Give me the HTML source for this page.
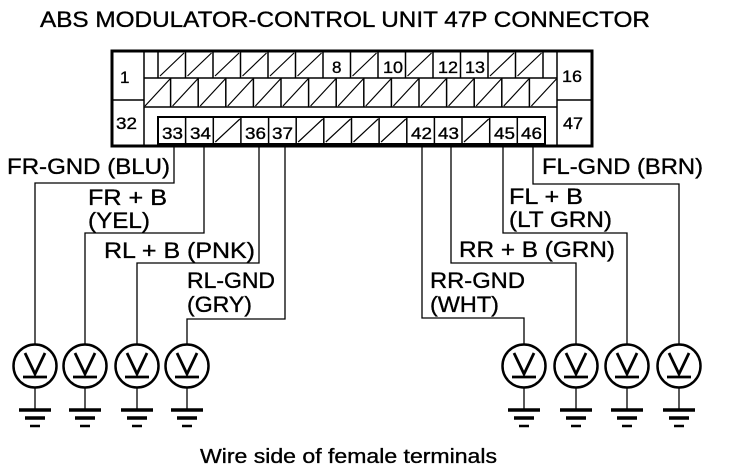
<!DOCTYPE html>
<html><head><meta charset="utf-8"><style>
html,body{margin:0;padding:0;background:#fff;}
svg{display:block;}
text{font-family:"Liberation Sans",sans-serif;fill:#000;stroke:#000;stroke-width:0.35;}
</style></head><body>
<svg width="736" height="474" viewBox="0 0 736 474" xmlns="http://www.w3.org/2000/svg">
<text x="40" y="27" font-size="22" textLength="610" lengthAdjust="spacingAndGlyphs">ABS MODULATOR-CONTROL UNIT 47P CONNECTOR</text>
<g stroke="#000" fill="none" stroke-width="1.5">
<rect x="112" y="51" width="480" height="95" stroke-width="3"/>
<line x1="144" y1="51" x2="144" y2="146"/>
<line x1="557" y1="51" x2="557" y2="146"/>
<line x1="112" y1="100" x2="144" y2="100"/>
<line x1="557" y1="100" x2="592" y2="100"/>
<line x1="144" y1="78" x2="557" y2="78"/>
<line x1="144" y1="107" x2="557" y2="107"/>
<line x1="158" y1="51" x2="158" y2="78"/><line x1="185.5" y1="51" x2="185.5" y2="78"/><line x1="213" y1="51" x2="213" y2="78"/><line x1="240.5" y1="51" x2="240.5" y2="78"/><line x1="268" y1="51" x2="268" y2="78"/><line x1="295.5" y1="51" x2="295.5" y2="78"/><line x1="323" y1="51" x2="323" y2="78"/><line x1="350.5" y1="51" x2="350.5" y2="78"/><line x1="378" y1="51" x2="378" y2="78"/><line x1="405.5" y1="51" x2="405.5" y2="78"/><line x1="433" y1="51" x2="433" y2="78"/><line x1="460.5" y1="51" x2="460.5" y2="78"/><line x1="488" y1="51" x2="488" y2="78"/><line x1="515.5" y1="51" x2="515.5" y2="78"/><line x1="543" y1="51" x2="543" y2="78"/>
<g stroke-width="1.2">
<line x1="160" y1="76" x2="184" y2="53"/><line x1="187.5" y1="76" x2="211.5" y2="53"/><line x1="215" y1="76" x2="239" y2="53"/><line x1="242.5" y1="76" x2="266.5" y2="53"/><line x1="270" y1="76" x2="294" y2="53"/><line x1="297.5" y1="76" x2="321.5" y2="53"/><line x1="352.5" y1="76" x2="376.5" y2="53"/><line x1="407.5" y1="76" x2="431.5" y2="53"/><line x1="490" y1="76" x2="514" y2="53"/><line x1="517.5" y1="76" x2="541.5" y2="53"/>
</g>
<line x1="170.6" y1="78" x2="170.6" y2="107"/><line x1="198.2" y1="78" x2="198.2" y2="107"/><line x1="225.8" y1="78" x2="225.8" y2="107"/><line x1="253.4" y1="78" x2="253.4" y2="107"/><line x1="281" y1="78" x2="281" y2="107"/><line x1="308.6" y1="78" x2="308.6" y2="107"/><line x1="336.2" y1="78" x2="336.2" y2="107"/><line x1="363.8" y1="78" x2="363.8" y2="107"/><line x1="391.4" y1="78" x2="391.4" y2="107"/><line x1="419" y1="78" x2="419" y2="107"/><line x1="446.6" y1="78" x2="446.6" y2="107"/><line x1="474.2" y1="78" x2="474.2" y2="107"/><line x1="501.8" y1="78" x2="501.8" y2="107"/><line x1="529.4" y1="78" x2="529.4" y2="107"/>
<g stroke-width="1.2">
<line x1="145" y1="106" x2="170" y2="79"/><line x1="172.6" y1="106" x2="197.6" y2="79"/><line x1="200.2" y1="106" x2="225.2" y2="79"/><line x1="227.8" y1="106" x2="252.8" y2="79"/><line x1="255.4" y1="106" x2="280.4" y2="79"/><line x1="283" y1="106" x2="308" y2="79"/><line x1="310.6" y1="106" x2="335.6" y2="79"/><line x1="338.2" y1="106" x2="363.2" y2="79"/><line x1="365.8" y1="106" x2="390.8" y2="79"/><line x1="393.4" y1="106" x2="418.4" y2="79"/><line x1="421" y1="106" x2="446" y2="79"/><line x1="448.6" y1="106" x2="473.6" y2="79"/><line x1="476.2" y1="106" x2="501.2" y2="79"/><line x1="503.8" y1="106" x2="528.8" y2="79"/><line x1="531.4" y1="106" x2="556.4" y2="79"/>
</g>
<rect x="158" y="117" width="387" height="27" stroke-width="2"/>
<line x1="185.6" y1="117" x2="185.6" y2="144"/><line x1="213.3" y1="117" x2="213.3" y2="144"/><line x1="240.9" y1="117" x2="240.9" y2="144"/><line x1="268.6" y1="117" x2="268.6" y2="144"/><line x1="296.2" y1="117" x2="296.2" y2="144"/><line x1="323.8" y1="117" x2="323.8" y2="144"/><line x1="351.5" y1="117" x2="351.5" y2="144"/><line x1="379.1" y1="117" x2="379.1" y2="144"/><line x1="406.8" y1="117" x2="406.8" y2="144"/><line x1="434.4" y1="117" x2="434.4" y2="144"/><line x1="462" y1="117" x2="462" y2="144"/><line x1="489.7" y1="117" x2="489.7" y2="144"/><line x1="517.3" y1="117" x2="517.3" y2="144"/>
<g stroke-width="1.2">
<line x1="215.3" y1="142" x2="239.9" y2="119"/><line x1="298.2" y1="142" x2="322.8" y2="119"/><line x1="325.8" y1="142" x2="350.5" y2="119"/><line x1="353.5" y1="142" x2="378.1" y2="119"/><line x1="381.1" y1="142" x2="405.8" y2="119"/><line x1="464" y1="142" x2="488.7" y2="119"/>
</g>
<g stroke-width="1.3">
<polyline points="174,144 174,183 35,183 35,345"/>
<polyline points="204,144 204,233 85,233 85,345"/>
<polyline points="259,144 259,263 137,263 137,345"/>
<polyline points="285,144 285,319 187,319 187,345"/>
<polyline points="422,144 422,318 524,318 524,345"/>
<polyline points="451,144 451,263 576,263 576,345"/>
<polyline points="503,144 503,233 627,233 627,345"/>
<polyline points="533,144 533,184 679,184 679,345"/>
</g>
</g>
<g font-size="17">
<text x="120" y="83">1</text><text x="562" y="82" textLength="20" lengthAdjust="spacingAndGlyphs">16</text>
<text x="116" y="129" textLength="21" lengthAdjust="spacingAndGlyphs">32</text><text x="563" y="129" textLength="20" lengthAdjust="spacingAndGlyphs">47</text>
<text x="332" y="73">8</text><text x="383" y="73" textLength="20" lengthAdjust="spacingAndGlyphs">10</text><text x="438" y="73" textLength="20" lengthAdjust="spacingAndGlyphs">12</text><text x="465" y="73" textLength="20" lengthAdjust="spacingAndGlyphs">13</text>
<g>
<text x="162" y="139" textLength="21" lengthAdjust="spacingAndGlyphs">33</text><text x="190" y="139" textLength="21" lengthAdjust="spacingAndGlyphs">34</text><text x="245" y="139" textLength="21" lengthAdjust="spacingAndGlyphs">36</text><text x="272" y="139" textLength="21" lengthAdjust="spacingAndGlyphs">37</text><text x="411" y="139" textLength="21" lengthAdjust="spacingAndGlyphs">42</text><text x="438" y="139" textLength="21" lengthAdjust="spacingAndGlyphs">43</text><text x="494" y="139" textLength="21" lengthAdjust="spacingAndGlyphs">45</text><text x="521" y="139" textLength="21" lengthAdjust="spacingAndGlyphs">46</text>
</g>
</g>
<g font-size="22" lengthAdjust="spacingAndGlyphs">
<text x="7" y="174" textLength="163" lengthAdjust="spacingAndGlyphs">FR-GND (BLU)</text>
<text x="88" y="205" textLength="79" lengthAdjust="spacingAndGlyphs">FR  + B</text>
<text x="88" y="228" textLength="62" lengthAdjust="spacingAndGlyphs">(YEL)</text>
<text x="104" y="258" textLength="151" lengthAdjust="spacingAndGlyphs">RL  + B (PNK)</text>
<text x="187" y="288" textLength="88" lengthAdjust="spacingAndGlyphs">RL-GND</text>
<text x="187" y="312" textLength="65" lengthAdjust="spacingAndGlyphs">(GRY)</text>
<text x="542" y="174" textLength="161" lengthAdjust="spacingAndGlyphs">FL-GND (BRN)</text>
<text x="509" y="204" textLength="74" lengthAdjust="spacingAndGlyphs">FL  + B</text>
<text x="509" y="227" textLength="103" lengthAdjust="spacingAndGlyphs">(LT GRN)</text>
<text x="459" y="257" textLength="156" lengthAdjust="spacingAndGlyphs">RR  + B (GRN)</text>
<text x="430" y="288" textLength="95" lengthAdjust="spacingAndGlyphs">RR-GND</text>
<text x="430" y="312" textLength="69" lengthAdjust="spacingAndGlyphs">(WHT)</text>
</g>
<g stroke="#000" fill="none">
<g id="m1" transform="translate(35,366)">
<circle r="21.5" stroke-width="2.5"/>
<polyline points="-10,-13 0,8 10,-13" stroke-width="2.8"/>
<line x1="-12" y1="11" x2="12" y2="11" stroke-width="2.8"/>
<line x1="0" y1="22" x2="0" y2="44" stroke-width="1.3"/>
<line x1="-16" y1="44" x2="16" y2="44" stroke-width="3.5"/>
<line x1="-10" y1="52" x2="10" y2="52" stroke-width="3.5"/>
<line x1="-5" y1="60" x2="5" y2="60" stroke-width="2.5"/>
</g>
<use href="#m1" x="50"/><use href="#m1" x="102"/><use href="#m1" x="152"/>
<use href="#m1" x="489"/><use href="#m1" x="541"/><use href="#m1" x="592"/><use href="#m1" x="644"/>
</g>
<text x="200" y="463" font-size="20" textLength="297" lengthAdjust="spacingAndGlyphs">Wire side of female terminals</text>
</svg>
</body></html>
